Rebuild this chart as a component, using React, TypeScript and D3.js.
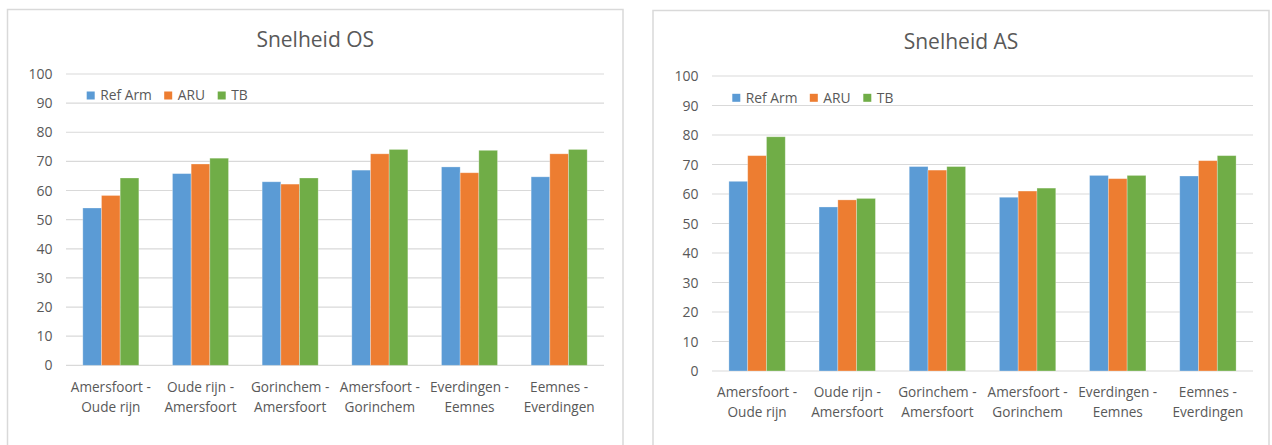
import React from 'react';
import * as d3 from 'd3';

const categories = [
  ['Amersfoort -', 'Oude rijn'],
  ['Oude rijn -', 'Amersfoort'],
  ['Gorinchem -', 'Amersfoort'],
  ['Amersfoort -', 'Gorinchem'],
  ['Everdingen -', 'Eemnes'],
  ['Eemnes -', 'Everdingen'],
];
const seriesNames = ['Ref Arm', 'ARU', 'TB'];
const seriesColors = ['#5B9BD5', '#ED7D31', '#70AD47'];

// Snelheid OS
const osRefArm = [54.0, 65.8, 63.0, 67.0, 68.1, 64.7];
const osAru = [58.3, 69.1, 62.2, 72.6, 66.1, 72.6];
const osTb = [64.3, 71.1, 64.3, 74.1, 73.8, 74.1];

// Snelheid AS
const asRefArm = [64.3, 55.6, 69.3, 58.9, 66.3, 66.1];
const asAru = [73.0, 58.0, 68.1, 61.0, 65.2, 71.3];
const asTb = [79.4, 58.5, 69.3, 62.0, 66.3, 73.0];

const yTicks = [0, 10, 20, 30, 40, 50, 60, 70, 80, 90, 100];

const FONT = '"Open Sans", "Segoe UI", sans-serif';
const TEXT = '#595959';
const GRID = '#D9D9D9';

type Layout = {
  frameX: number;
  frameY: number;
  frameW: number;
  plotX0: number;
  plotX1: number;
  yTop: number;
  yBottom: number;
  titleY: number;
  legendX: number;
  legendY: number;
  labelY: number;
};

type ChartProps = {
  title: string;
  series: number[][];
  layout: Layout;
};

const legendOffsets = [0, 77.5, 131];

const Chart: React.FC<ChartProps> = ({ title, series, layout }) => {
  const L = layout;
  const x = d3
    .scaleBand<number>()
    .domain(categories.map((_, i) => i))
    .range([L.plotX0, L.plotX1])
    .paddingInner(0.375)
    .paddingOuter(0.1875);
  const xs = d3
    .scaleBand<number>()
    .domain(seriesNames.map((_, i) => i))
    .range([0, x.bandwidth()]);
  const y = d3.scaleLinear().domain([0, 100]).range([L.yBottom, L.yTop]);

  return (
    <g>
      <rect
        x={L.frameX}
        y={L.frameY}
        width={L.frameW}
        height={460}
        fill="#fff"
        stroke={GRID}
        strokeWidth={1.5}
      />
      <text
        x={L.frameX + L.frameW / 2}
        y={L.titleY}
        textAnchor="middle"
        fontSize={21}
        fill={TEXT}
        fontFamily={FONT}
      >
        {title}
      </text>
      {yTicks.map((t) => (
        <g key={t}>
          <line
            x1={L.plotX0}
            x2={L.plotX1}
            y1={y(t)}
            y2={y(t)}
            stroke={GRID}
            strokeWidth={1.2}
          />
          <text
            x={L.plotX0 - 13.5}
            y={y(t)}
            dy="0.36em"
            textAnchor="end"
            fontSize={14}
            fill={TEXT}
            fontFamily={FONT}
          >
            {t}
          </text>
        </g>
      ))}
      {series.map((vals, s) =>
        vals.map((v, i) => (
          <rect
            key={`${s}-${i}`}
            x={(x(i) ?? 0) + (xs(s) ?? 0)}
            y={y(v)}
            width={xs.bandwidth()}
            height={y(0) - y(v)}
            fill={seriesColors[s]}
            stroke="#ffffff"
            strokeOpacity={0.35}
            strokeWidth={0.8}
          />
        ))
      )}
      {categories.map((lines, i) => (
        <text
          key={i}
          x={(x(i) ?? 0) + x.bandwidth() / 2}
          y={L.labelY}
          textAnchor="middle"
          fontSize={13.6}
          fill={TEXT}
          fontFamily={FONT}
        >
          <tspan x={(x(i) ?? 0) + x.bandwidth() / 2}>{lines[0]}</tspan>
          <tspan x={(x(i) ?? 0) + x.bandwidth() / 2} dy={19.5}>
            {lines[1]}
          </tspan>
        </text>
      ))}
      {seriesNames.map((name, s) => (
        <g key={name} transform={`translate(${L.legendX + legendOffsets[s]},${L.legendY})`}>
          <rect x={0} y={-4} width={8} height={8} fill={seriesColors[s]} />
          <text x={13.5} y={0} dy="0.36em" fontSize={13.8} fill={TEXT} fontFamily={FONT}>
            {name}
          </text>
        </g>
      ))}
    </g>
  );
};

const osLayout: Layout = {
  frameX: 7.5,
  frameY: 9.5,
  frameW: 615.5,
  plotX0: 66,
  plotX1: 604,
  yTop: 74,
  yBottom: 365.3,
  titleY: 46.5,
  legendX: 86.7,
  legendY: 95.5,
  labelY: 392,
};

const asLayout: Layout = {
  frameX: 653,
  frameY: 10.5,
  frameW: 616,
  plotX0: 712,
  plotX1: 1253,
  yTop: 76,
  yBottom: 371,
  titleY: 48.5,
  legendX: 732.3,
  legendY: 97.8,
  labelY: 397,
};

export default function App() {
  return (
    <div style={{ position: 'absolute', left: 0, top: 0 }}>
      <svg width={1272} height={445} viewBox="0 0 1272 445" style={{ display: 'block' }}>
        <rect width={1272} height={445} fill="#fff" />
        <Chart title="Snelheid OS" series={[osRefArm, osAru, osTb]} layout={osLayout} />
        <Chart title="Snelheid AS" series={[asRefArm, asAru, asTb]} layout={asLayout} />
      </svg>
    </div>
  );
}
